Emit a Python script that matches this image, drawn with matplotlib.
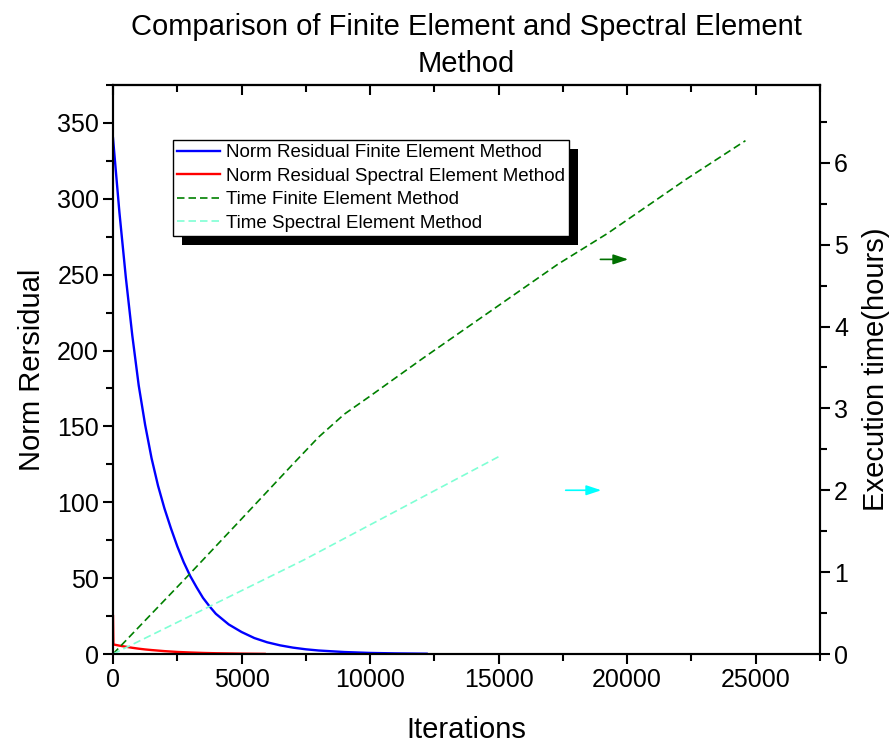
import matplotlib
matplotlib.use("Agg")
import matplotlib.pyplot as plt
from matplotlib.patches import Rectangle
from matplotlib.transforms import IdentityTransform
from matplotlib.ticker import MultipleLocator

plt.rcParams['font.family'] = ['Liberation Sans', 'DejaVu Sans']

# ---- data ----
fem_res_iter = [0, 250, 500, 750, 1000, 1250, 1500, 1750, 2000, 2250, 2500, 2750, 3000,
                3250, 3500, 3750, 4000, 4500, 5000, 5500, 6000, 6500, 7000, 7500, 8000,
                9000, 10000, 11000, 12200]
fem_res_val = [340, 291, 248, 210, 177, 151, 129, 111, 96, 83, 71, 60.5, 51.5,
               44, 37, 31.5, 26.5, 19.5, 14.5, 10.5, 7.7, 5.7, 4.2, 3.1, 2.3,
               1.3, 0.7, 0.4, 0.2]

sem_res_iter = [0, 15, 250, 500, 750, 1000, 1250, 1500, 2000, 2500, 3000, 3500, 4000, 5000, 5900]
sem_res_val = [25, 6.3, 5.5, 4.8, 4.1, 3.5, 3.0, 2.6, 1.9, 1.35, 1.0, 0.7, 0.5, 0.25, 0.1]

fem_time_iter = [0, 2900, 5000, 7000, 8000, 9000, 10000, 12000, 17300, 19250, 22300, 24600]
fem_time_val = [0, 0.95, 1.65, 2.32, 2.65, 2.93, 3.15, 3.6, 4.76, 5.14, 5.80, 6.27]

sem_time_iter = [0, 3750, 7430, 15000]
sem_time_val = [0, 0.58, 1.15, 2.41]

labels = ["Norm Residual Finite Element Method",
          "Norm Residual Spectral Element Method",
          "Time Finite Element Method",
          "Time Spectral Element Method"]

W, H = 891, 745
fig = plt.figure(figsize=(W / 100, H / 100), dpi=100)
ax = fig.add_axes([113 / W, 1 - 654 / H, (820 - 113) / W, (654 - 85) / H])
ax2 = ax.twinx()

l1, = ax.plot(fem_res_iter, fem_res_val, color='#0000FF', lw=1.7)
l2, = ax.plot(sem_res_iter, sem_res_val, color='#FF0000', lw=1.7)
l3, = ax2.plot(fem_time_iter, fem_time_val, color='#008000', lw=1.2, dashes=(4.5, 2.4))
l4, = ax2.plot(sem_time_iter, sem_time_val, color='#7FFFD4', lw=1.2, dashes=(4.5, 2.4))

ax.set_xlim(0, 27500)
ax.set_ylim(0, 375)
ax2.set_ylim(0, 6.95)

ax.xaxis.set_major_locator(MultipleLocator(5000))
ax.xaxis.set_minor_locator(MultipleLocator(2500))
ax.yaxis.set_major_locator(MultipleLocator(50))
ax.yaxis.set_minor_locator(MultipleLocator(25))
ax2.yaxis.set_major_locator(MultipleLocator(1))
ax2.yaxis.set_minor_locator(MultipleLocator(0.5))

for a in (ax, ax2):
    for s in a.spines.values():
        s.set_linewidth(1.5)
    a.tick_params(which='major', length=7, width=1.5, labelsize=18, direction='out', pad=3)
    a.tick_params(which='minor', length=5, width=1.5, direction='out')

secx = ax.secondary_xaxis('top')
secx.xaxis.set_major_locator(MultipleLocator(5000))
secx.xaxis.set_minor_locator(MultipleLocator(2500))
secx.tick_params(which='major', direction='in', length=7, width=1.5, labeltop=False)
secx.tick_params(which='minor', direction='in', length=5, width=1.5)
secx.spines['top'].set_linewidth(1.5)

ax.set_xlabel("Iterations", fontsize=21, labelpad=17)
ax.set_ylabel("Norm Rersidual", fontsize=21, labelpad=8)
ax2.set_ylabel("Execution time(hours)", fontsize=21, labelpad=10)
ax.set_title("Comparison of Finite Element and Spectral Element\nMethod", fontsize=21,
             pad=9, linespacing=1.45)

# arrows pointing to the right axis
ax2.annotate("", xy=(19100, 2.0), xytext=(17500, 2.0),
             arrowprops=dict(arrowstyle='-|>,head_length=0.9,head_width=0.3', color='#00FFFF', lw=1.2))
ax2.annotate("", xy=(20150, 4.82), xytext=(18850, 4.82),
             arrowprops=dict(arrowstyle='-|>,head_length=0.9,head_width=0.3', color='#007000', lw=1.2))

leg = ax2.legend([l1, l2, l3, l4], labels, loc='upper left',
                 bbox_to_anchor=(173 / W, 1 - 140 / H), bbox_transform=fig.transFigure,
                 fontsize=13.5, frameon=True, fancybox=False, shadow=False, framealpha=1,
                 borderpad=0.22, labelspacing=0.34, handlelength=2.3, handletextpad=0.3,
                 borderaxespad=0)
leg.get_frame().set_edgecolor('black')
leg.get_frame().set_facecolor('white')
leg.get_frame().set_linewidth(1.0)
leg.set_zorder(10)

fig.canvas.draw()
bb = leg.get_window_extent()
shadow = Rectangle((bb.x0 + 9, bb.y0 - 9), bb.width, bb.height, transform=IdentityTransform(),
                   facecolor='black', edgecolor='none', zorder=9)
ax2.add_artist(shadow)

fig.savefig("out.png", dpi=100)
